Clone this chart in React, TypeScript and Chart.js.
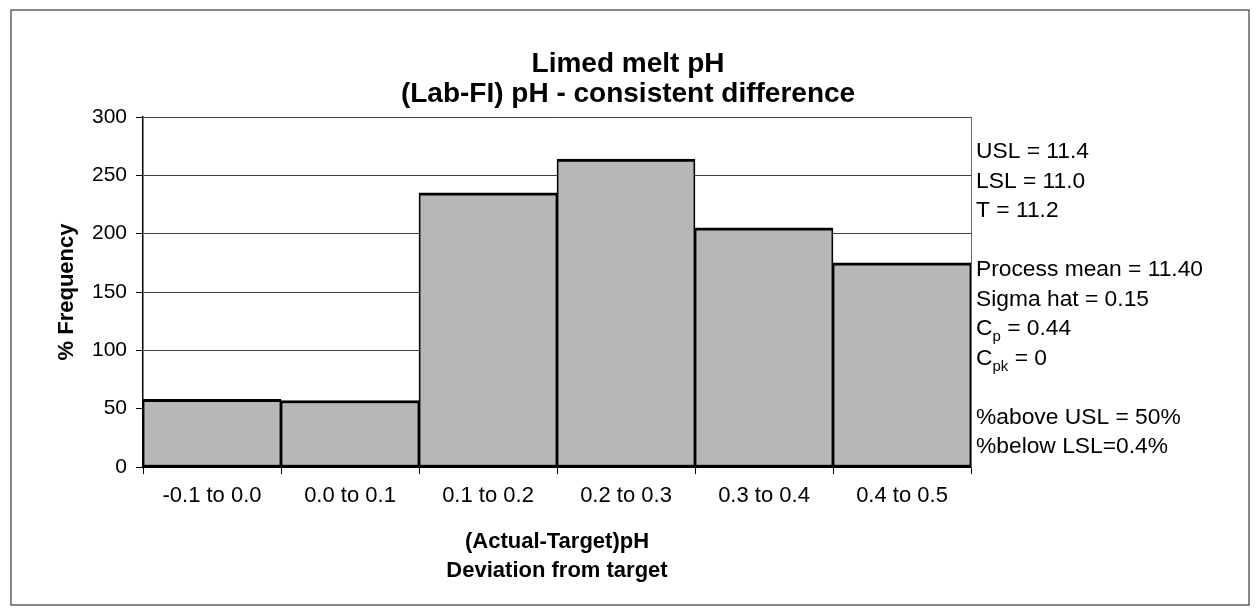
import React, { useEffect, useRef } from "react";
import { Chart, registerables } from "chart.js";

Chart.register(...registerables);

const titleLines = ["Limed melt pH", "(Lab-FI) pH - consistent difference"];
const categories = ["-0.1 to 0.0", "0.0 to 0.1", "0.1 to 0.2", "0.2 to 0.3", "0.3 to 0.4", "0.4 to 0.5"];
const frequency = [58, 57, 235, 264, 205, 175];
const yTitle = "% Frequency";
const xTitle = ["(Actual-Target)pH", "Deviation from target"];
// [main text, subscript, rest]
const statLines: [string, string, string][] = [
  ["USL = 11.4", "", ""],
  ["LSL = 11.0", "", ""],
  ["T = 11.2", "", ""],
  ["", "", ""],
  ["Process mean = 11.40", "", ""],
  ["Sigma hat = 0.15", "", ""],
  ["C", "p", " = 0.44"],
  ["C", "pk", " = 0"],
  ["", "", ""],
  ["%above USL = 50%", "", ""],
  ["%below LSL=0.4%", "", ""],
];

const FONT = "'Liberation Sans', Arial, Helvetica, sans-serif";

const framePlugin = {
  id: "frame",
  afterDraw(chart: any) {
    const ctx = chart.ctx;
    ctx.save();
    ctx.strokeStyle = "#3a3a3a";
    ctx.lineWidth = 1.2;
    ctx.strokeRect(11, 10, 1238, 595);
    ctx.restore();
  },
};

const statsPlugin = {
  id: "stats",
  afterDraw(chart: any) {
    const ctx = chart.ctx;
    const area = chart.chartArea;
    const x0 = area.right + 5;
    const firstBaseline = area.top + 41;
    const step = 29.5;
    ctx.save();
    ctx.fillStyle = "#000";
    ctx.textBaseline = "alphabetic";
    ctx.textAlign = "left";
    statLines.forEach((ln, i) => {
      const y = firstBaseline + i * step;
      let x = x0;
      ctx.font = `22.8px ${FONT}`;
      if (ln[0]) {
        ctx.fillText(ln[0], x, y);
        x += ctx.measureText(ln[0]).width;
      }
      if (ln[1]) {
        ctx.font = `15px ${FONT}`;
        ctx.fillText(ln[1], x, y + 6);
        x += ctx.measureText(ln[1]).width;
      }
      if (ln[2]) {
        ctx.font = `22.8px ${FONT}`;
        ctx.fillText(ln[2], x, y);
      }
    });
    ctx.restore();
  },
};

export default function App() {
  const ref = useRef<HTMLCanvasElement | null>(null);

  useEffect(() => {
    if (!ref.current) return;
    Chart.defaults.font.family = FONT;
    Chart.defaults.color = "#000";
    const chart = new Chart(ref.current, {
      type: "bar",
      data: {
        labels: categories,
        datasets: [
          {
            label: "% Frequency",
            data: frequency,
            backgroundColor: "#b7b7b7",
            borderColor: "#000",
            borderWidth: { top: 3, left: 1.75, right: 1.75, bottom: 2 } as any,
            borderSkipped: false,
            barPercentage: 1,
            categoryPercentage: 1,
            yAxisID: "y",
          },
        ],
      },
      options: {
        responsive: false,
        animation: false,
        layout: { padding: { top: 12, left: 10, right: 10, bottom: 28 } },
        plugins: {
          legend: { display: false },
          tooltip: { enabled: false },
          title: {
            display: true,
            text: titleLines,
            color: "#000",
            font: { size: 28, weight: "bold", family: FONT, lineHeight: 30 / 28 },
            padding: { top: 37, bottom: 8 },
          },
        },
        scales: {
          x: {
            afterFit(scale: any) {
              scale.height = 120;
            },
            grid: {
              drawOnChartArea: false,
              drawTicks: true,
              tickLength: 7,
              tickColor: "#000",
              offset: true,
            },
            border: { display: true, color: "#000", width: 2 },
            ticks: {
              font: { size: 22, family: FONT },
              color: "#000",
              padding: 9,
              maxRotation: 0,
              autoSkip: false,
            },
            title: {
              display: true,
              text: xTitle,
              color: "#000",
              font: { size: 22, weight: "bold", family: FONT, lineHeight: 29 / 22 },
              padding: { top: 0, bottom: 2 },
            },
          },
          y: {
            position: "left",
            min: 0,
            max: 300,
            afterFit(scale: any) {
              scale.width = 133;
            },
            ticks: {
              stepSize: 50,
              font: { size: 21, family: FONT },
              color: "#000",
              padding: 9,
            },
            grid: {
              color: "#3f3f3f",
              lineWidth: 1,
              drawTicks: true,
              tickLength: 7,
              tickColor: "#000",
            },
            border: { display: true, color: "#000", width: 1.5 },
            title: {
              display: true,
              text: yTitle,
              color: "#000",
              font: { size: 22, weight: "bold", family: FONT, lineHeight: 1.2 },
              padding: { top: 44, bottom: 12 },
            },
          },
          y2: {
            position: "right",
            min: 0,
            max: 300,
            afterFit(scale: any) {
              scale.width = 275;
            },
            ticks: { display: false },
            grid: { display: false, drawOnChartArea: false, drawTicks: false },
            border: { display: true, color: "#6a6a6a", width: 1 },
          },
        },
      },
      plugins: [framePlugin, statsPlugin],
    });
    return () => chart.destroy();
  }, []);

  return (
    <div style={{ position: "absolute", left: 0, top: 0, width: 1256, height: 615, background: "#fff" }}>
      <canvas ref={ref} width={1256} height={615} style={{ display: "block" }} />
    </div>
  );
}
